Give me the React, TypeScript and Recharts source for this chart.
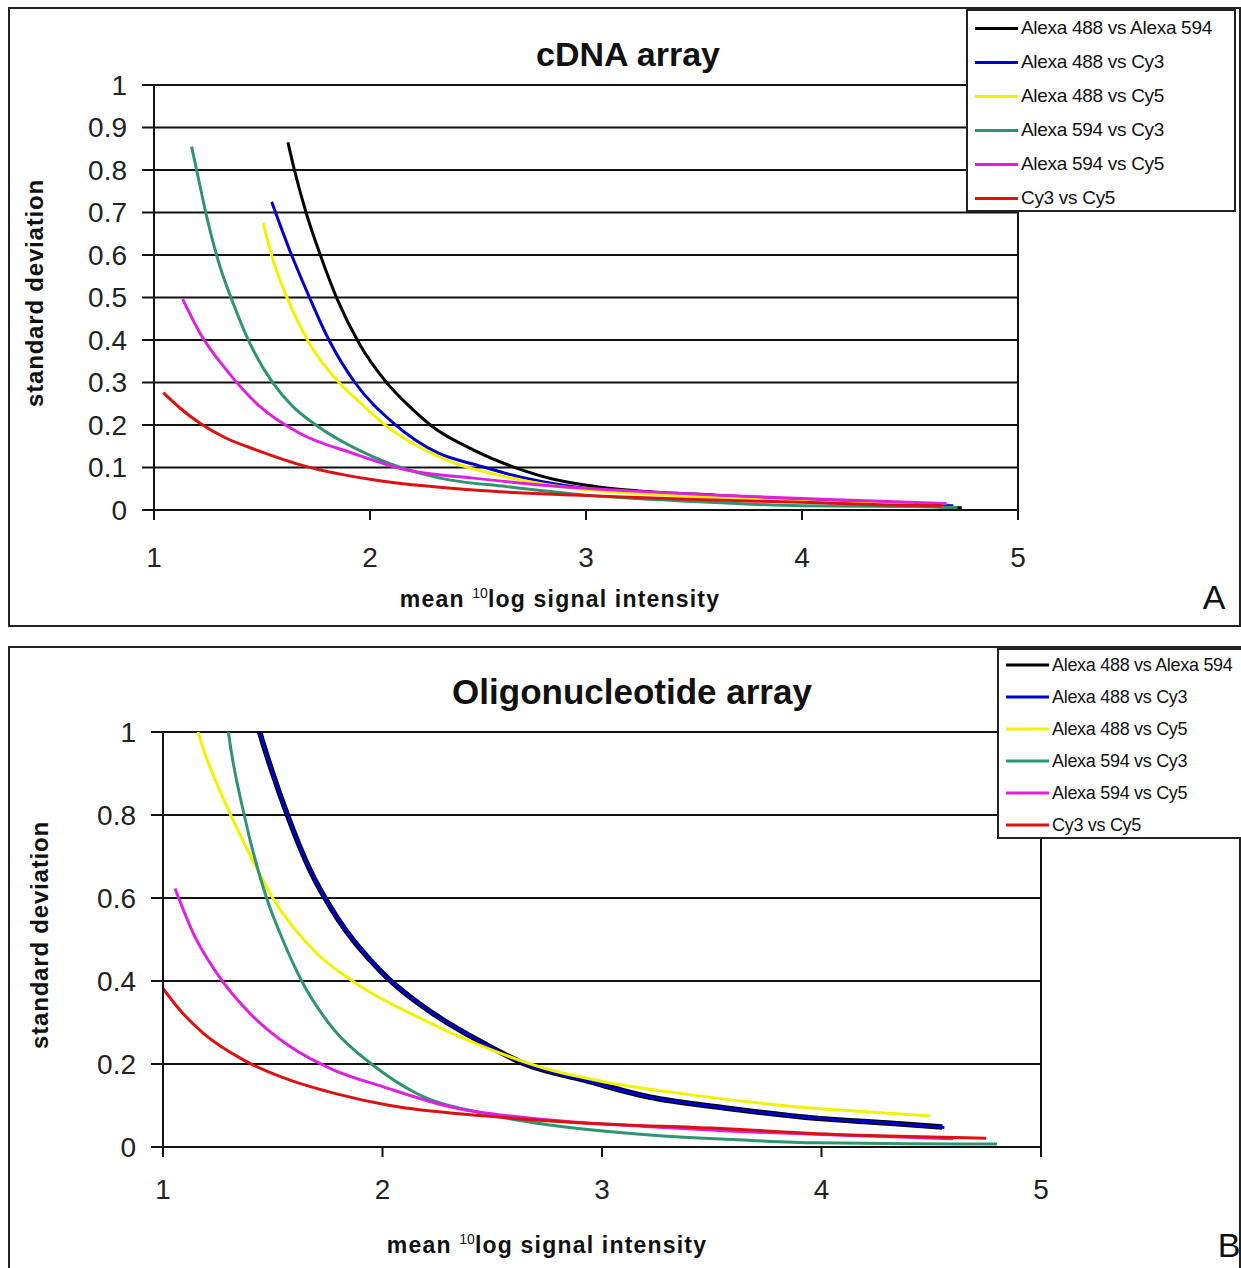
import React from "react"
import { LineChart, Line, XAxis, YAxis, CartesianGrid, ReferenceLine } from "recharts"

const FONT = '"Liberation Sans", Arial, sans-serif'

// series names and colours (same order in both panels)
const SERIES_NAMES = [
  "Alexa 488 vs Alexa 594",
  "Alexa 488 vs Cy3",
  "Alexa 488 vs Cy5",
  "Alexa 594 vs Cy3",
  "Alexa 594 vs Cy5",
  "Cy3 vs Cy5",
]
const SERIES_COLORS = ["#000000", "#0000c8", "#f2f200", "#2f9470", "#e020e0", "#dd1111"]

const X_TICKS = [1, 2, 3, 4, 5]
const Y_TICKS_A = [0, 0.1, 0.2, 0.3, 0.4, 0.5, 0.6, 0.7, 0.8, 0.9, 1]
const Y_TICKS_B = [0, 0.2, 0.4, 0.6, 0.8, 1]

// panel A: cDNA array  [mean log intensity, standard deviation]
const cdna488vs594 = [
  [1.62, 0.865], [1.65, 0.8], [1.71, 0.69], [1.77, 0.6], [1.85, 0.494], [1.95, 0.392],
  [2.08, 0.298], [2.18, 0.245], [2.29, 0.196], [2.48, 0.141], [2.66, 0.102], [2.86, 0.071],
  [3.05, 0.055], [3.25, 0.045], [3.6, 0.035], [4.0, 0.025], [4.4, 0.013], [4.74, 0.005],
]
const cdna488vsCy3 = [
  [1.545, 0.725], [1.637, 0.6], [1.72, 0.5], [1.81, 0.4], [1.93, 0.3], [2.11, 0.204],
  [2.32, 0.133], [2.5, 0.105], [2.63, 0.086], [2.94, 0.055],
  [3.3, 0.04], [3.7, 0.03], [4.1, 0.02], [4.5, 0.013], [4.7, 0.01],
]
const cdna488vsCy5 = [
  [1.506, 0.675], [1.55, 0.59], [1.614, 0.502], [1.72, 0.392], [1.86, 0.298], [1.96, 0.25],
  [2.06, 0.204], [2.32, 0.125], [2.63, 0.078], [2.94, 0.051], [3.3, 0.037], [3.7, 0.027],
  [4.1, 0.018], [4.6, 0.012],
]
const cdna594vsCy3 = [
  [1.174, 0.855], [1.21, 0.77], [1.244, 0.69], [1.306, 0.572], [1.367, 0.486], [1.444, 0.392],
  [1.552, 0.298], [1.64, 0.245], [1.738, 0.204], [2.015, 0.125], [2.324, 0.075], [2.633, 0.055],
  [3.0, 0.035], [3.5, 0.02], [4.0, 0.01], [4.5, 0.008], [4.72, 0.006],
]
const cdna594vsCy5 = [
  [1.133, 0.496], [1.213, 0.416], [1.336, 0.329], [1.491, 0.243], [1.676, 0.18], [1.923, 0.133],
  [2.17, 0.094], [2.478, 0.075], [2.787, 0.059], [3.2, 0.045], [3.6, 0.035], [4.0, 0.027],
  [4.3, 0.022], [4.67, 0.015],
]
const cdnaCy3vsCy5 = [
  [1.043, 0.276], [1.12, 0.24], [1.213, 0.204], [1.33, 0.17], [1.475, 0.141], [1.707, 0.102],
  [2.015, 0.071], [2.478, 0.047], [2.94, 0.035], [3.5, 0.025], [4.0, 0.018], [4.4, 0.012],
  [4.65, 0.01],
]

// panel B: oligonucleotide array
const oligo488vs594 = [
  [1.4, 1.08], [1.442, 0.997], [1.5, 0.9], [1.564, 0.804], [1.67, 0.667], [1.79, 0.555],
  [2.0, 0.419], [2.23, 0.322], [2.46, 0.25], [2.64, 0.202], [2.92, 0.161],
  [3.22, 0.12], [3.52, 0.097], [3.98, 0.069], [4.3, 0.058], [4.55, 0.048],
]
const oligo488vsCy3 = [
  [1.4, 1.08], [1.442, 0.997], [1.5, 0.9], [1.564, 0.804], [1.67, 0.667], [1.79, 0.555],
  [2.0, 0.419], [2.23, 0.322], [2.46, 0.25], [2.64, 0.202], [2.92, 0.161],
  [3.22, 0.12], [3.52, 0.097], [3.98, 0.069], [4.3, 0.058], [4.56, 0.047],
]
const oligo488vsCy5 = [
  [1.13, 1.08], [1.161, 1.0], [1.23, 0.895], [1.305, 0.804], [1.4, 0.7], [1.5, 0.6],
  [1.7, 0.467], [1.88, 0.394], [2.156, 0.314], [2.459, 0.242], [2.763, 0.186], [3.0, 0.158],
  [3.37, 0.128], [3.978, 0.093], [4.2, 0.085], [4.494, 0.075],
]
const oligo594vsCy3 = [
  [1.28, 1.08], [1.298, 1.0], [1.37, 0.8], [1.472, 0.6], [1.545, 0.5], [1.632, 0.4],
  [1.78, 0.282], [1.95, 0.2], [2.156, 0.129], [2.459, 0.081], [2.763, 0.053], [3.219, 0.029],
  [3.6, 0.018], [3.978, 0.01], [4.4, 0.008], [4.8, 0.007],
]
const oligo594vsCy5 = [
  [1.055, 0.623], [1.138, 0.515], [1.245, 0.419], [1.396, 0.322], [1.579, 0.242], [1.776, 0.186],
  [2.004, 0.145], [2.307, 0.097], [2.763, 0.065], [3.219, 0.049], [3.6, 0.038], [4.0, 0.03],
  [4.3, 0.025], [4.6, 0.02],
]
const oligoCy3vsCy5 = [
  [1.0, 0.382], [1.077, 0.33], [1.184, 0.274], [1.366, 0.21], [1.579, 0.161], [1.791, 0.128],
  [2.034, 0.1], [2.459, 0.075], [2.915, 0.058], [3.52, 0.045], [4.13, 0.029], [4.5, 0.024],
  [4.75, 0.021],
]

const CDNA = [cdna488vs594, cdna488vsCy3, cdna488vsCy5, cdna594vsCy3, cdna594vsCy5, cdnaCy3vsCy5]
const OLIGO = [oligo488vs594, oligo488vsCy3, oligo488vsCy5, oligo594vsCy3, oligo594vsCy5, oligoCy3vsCy5]

const toPoints = (arr: number[][]) => arr.map(([x, y]) => ({ x, y }))

const abs = (left: number, top: number): React.CSSProperties => ({
  position: "absolute", left, top, transform: "translate(-50%, -50%)", whiteSpace: "nowrap",
})

function Legend({ left, top, width, height, rowGap, firstRow, fontSize }: any) {
  return (
    <div style={{
      position: "absolute", left, top, width, height, boxSizing: "border-box",
      border: "2px solid #222", background: "#fff", fontFamily: FONT,
    }}>
      {SERIES_NAMES.map((n, i) => (
        <div key={n} style={{ position: "absolute", left: 7, top: firstRow + i * rowGap, display: "flex", alignItems: "center", transform: "translateY(-50%)" }}>
          <div style={{ width: 43, height: 3, background: SERIES_COLORS[i], marginRight: 3 }} />
          <span style={{ fontSize, color: "#111", letterSpacing: -0.3 }}>{n}</span>
        </div>
      ))}
    </div>
  )
}

function XLabel({ left, top }: { left: number; top: number }) {
  return (
    <div style={{ ...abs(left, top), fontFamily: FONT, fontWeight: 700, fontSize: 23, letterSpacing: 1.2, color: "#111" }}>
      mean <sup style={{ fontSize: 14, fontWeight: 400, letterSpacing: 0 }}>10</sup>log signal intensity
    </div>
  )
}

function YLabel({ left, top }: { left: number; top: number }) {
  return (
    <div style={{ ...abs(left, top), transform: "translate(-50%, -50%) rotate(-90deg)", fontFamily: FONT, fontWeight: 700, fontSize: 24, letterSpacing: 0.8, color: "#111" }}>
      standard deviation
    </div>
  )
}

function Panel({ series, yTicks, width, height, margin, thickBlue, xTickMargin }: any) {
  const tick = { fill: "#222", fontSize: 28, fontFamily: FONT }
  return (
    <LineChart width={width} height={height} margin={margin}>
      <CartesianGrid vertical={false} horizontal stroke="#111" strokeWidth={2} />
      <XAxis
        type="number" dataKey="x" domain={[1, 5]} ticks={X_TICKS} allowDataOverflow
        height={40} axisLine={{ stroke: "#111", strokeWidth: 2 }} tickLine={{ stroke: "#111", strokeWidth: 2 }}
        tickSize={10} tickMargin={xTickMargin} tick={tick} interval={0}
      />
      <YAxis
        type="number" dataKey="y" domain={[0, 1]} ticks={yTicks} allowDataOverflow
        width={60} axisLine={{ stroke: "#111", strokeWidth: 2 }} tickLine={{ stroke: "#111", strokeWidth: 2 }}
        tickSize={12} tickMargin={15} tick={tick} interval={0} tickFormatter={(v: number) => String(v)}
      />
      <ReferenceLine x={5} stroke="#111" strokeWidth={2} />
      {series.map((s: number[][], i: number) => (
        <Line
          key={SERIES_NAMES[i]}
          data={toPoints(s)}
          dataKey="y"
          type="monotone"
          stroke={SERIES_COLORS[i]}
          strokeWidth={thickBlue && i === 0 ? 5.5 : 3}
          dot={false}
          isAnimationActive={false}
        />
      ))}
    </LineChart>
  )
}

export default function App() {
  return (
    <div style={{ position: "absolute", left: 0, top: 0, width: 1241, height: 1268, overflow: "hidden", background: "#fff" }}>
      {/* panel A */}
      <div style={{ position: "absolute", left: 8, top: 7, width: 1233, height: 620, boxSizing: "border-box", border: "2px solid #222" }} />
      <div style={{ position: "absolute", left: 0, top: 0 }}>
        <Panel
          series={CDNA} yTicks={Y_TICKS_A} width={1241} height={640}
          margin={{ top: 85, left: 94, right: 223, bottom: 90 }} xTickMargin={27}
        />
      </div>
      <div style={{ ...abs(628, 54), fontFamily: FONT, fontWeight: 700, fontSize: 34, color: "#111" }}>cDNA array</div>
      <YLabel left={35} top={293} />
      <XLabel left={560} top={599} />
      <div style={{ ...abs(1214, 597), fontFamily: FONT, fontSize: 34, color: "#111" }}>A</div>
      <Legend left={966} top={9} width={270} height={203} rowGap={34} firstRow={17} fontSize={19} />

      {/* panel B */}
      <div style={{ position: "absolute", left: 8, top: 646, width: 1233, height: 640, boxSizing: "border-box", border: "2px solid #222" }} />
      <div style={{ position: "absolute", left: 0, top: 640 }}>
        <Panel
          series={OLIGO} yTicks={Y_TICKS_B} width={1241} height={628}
          margin={{ top: 92, left: 103, right: 200, bottom: 81 }} xTickMargin={22} thickBlue
        />
      </div>
      <div style={{ ...abs(632, 692), fontFamily: FONT, fontWeight: 700, fontSize: 35, color: "#111" }}>Oligonucleotide array</div>
      <YLabel left={40} top={935} />
      <XLabel left={547} top={1245} />
      <div style={{ ...abs(1229, 1245), fontFamily: FONT, fontSize: 34, color: "#111" }}>B</div>
      <Legend left={997} top={648} width={250} height={191} rowGap={32} firstRow={15} fontSize={18} />
    </div>
  )
}
